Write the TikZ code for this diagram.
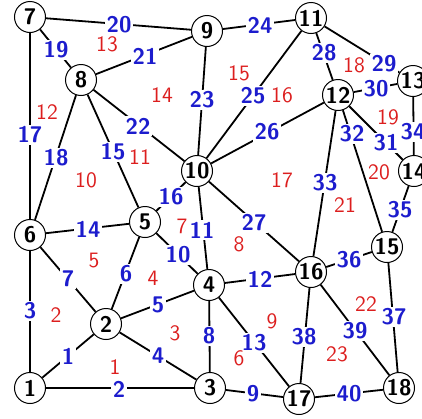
\documentclass[tikz,border=0pt]{standalone}
\definecolor{elblue}{RGB}{28,28,205}
\definecolor{flred}{RGB}{220,30,30}
\begin{document}
\begin{tikzpicture}[x=0.5pt,y=-0.5pt,
  vtx/.style={circle,draw=black,line width=0.5pt,fill=white,minimum size=15.5pt,inner sep=0pt,
    font=\fontsize{11.3}{13}\selectfont\sffamily\bfseries},
  edg/.style={line width=0.9pt},
  elabel/.style={fill=white,inner sep=0.8pt,text=elblue,font=\fontsize{11.3}{13}\selectfont\sffamily\bfseries},
  flabel/.style={inner sep=0pt,text=flred,font=\fontsize{11}{13}\selectfont\sffamily}]
\useasboundingbox (0,0) rectangle (422,418);
% vertices
\node[vtx] (v1) at (30,388) {1};
\node[vtx] (v2) at (106,324) {2};
\node[vtx] (v3) at (210,388) {3};
\node[vtx] (v4) at (209,285) {4};
\node[vtx] (v5) at (145,222) {5};
\node[vtx] (v6) at (30,235) {6};
\node[vtx] (v7) at (30,17) {7};
\node[vtx] (v8) at (81,80) {8};
\node[vtx] (v9) at (207,31) {9};
\node[vtx] (v10) at (197,171) {10};
\node[vtx] (v11) at (311,18) {11};
\node[vtx] (v12) at (338,95) {12};
\node[vtx] (v13) at (413,81) {13};
\node[vtx] (v14) at (414,171) {14};
\node[vtx] (v15) at (387,247) {15};
\node[vtx] (v16) at (311,272) {16};
\node[vtx] (v17) at (299,399) {17};
\node[vtx] (v18) at (399,388) {18};
% edges
\foreach \a/\b in {1/2,1/3,1/6,2/3,2/4,2/5,2/6,3/4,3/17,4/5,4/10,4/16,4/17,5/6,5/8,5/10,
  6/7,6/8,7/8,7/9,8/9,8/10,9/10,9/11,10/11,10/12,10/16,11/12,11/13,12/13,12/14,12/15,
  12/16,13/14,14/15,15/16,15/18,16/17,16/18,17/18}
  \draw[edg] (v\a) -- (v\b);
% edge labels
\foreach \n/\x/\y in {1/68/356,2/119/389,3/30/311,4/158/356,5/158/305,6/126/274,7/68/279,
  8/209/336,9/253/394,10/178/255,11/202/230,12/260/279,13/254/343,14/88/229,15/113/152,
  16/171/197,17/30/135,18/56/158,19/56/50,20/119/25,21/145/56,22/138/126,23/202/100,
  24/260/25,25/253/96,26/267/132,27/254/223,28/324/53,29/384/64,30/376/89,31/386/143,
  32/352/134,33/325/183,34/413/132,35/400/210,36/349/260,37/394/317,38/304/337,
  39/355/331,40/349/394}
  \node[elabel] (e\n) at (\x,\y) {\n};
% face labels
\foreach \n/\x/\y in {1/115/367,2/56/315,3/175/333,4/153/278,5/94/261,6/239/358,7/182/226,
  8/239/244,9/272/321,10/86/180,11/140/157,12/47/112,13/107/44,14/162/95,15/239/73,
  16/282/95,17/282/180,18/354/65,19/388/117,20/379/172,21/345/205,22/366/304,23/337/354}
  \node[flabel] (f\n) at (\x,\y) {\n};
\end{tikzpicture}
\end{document}
